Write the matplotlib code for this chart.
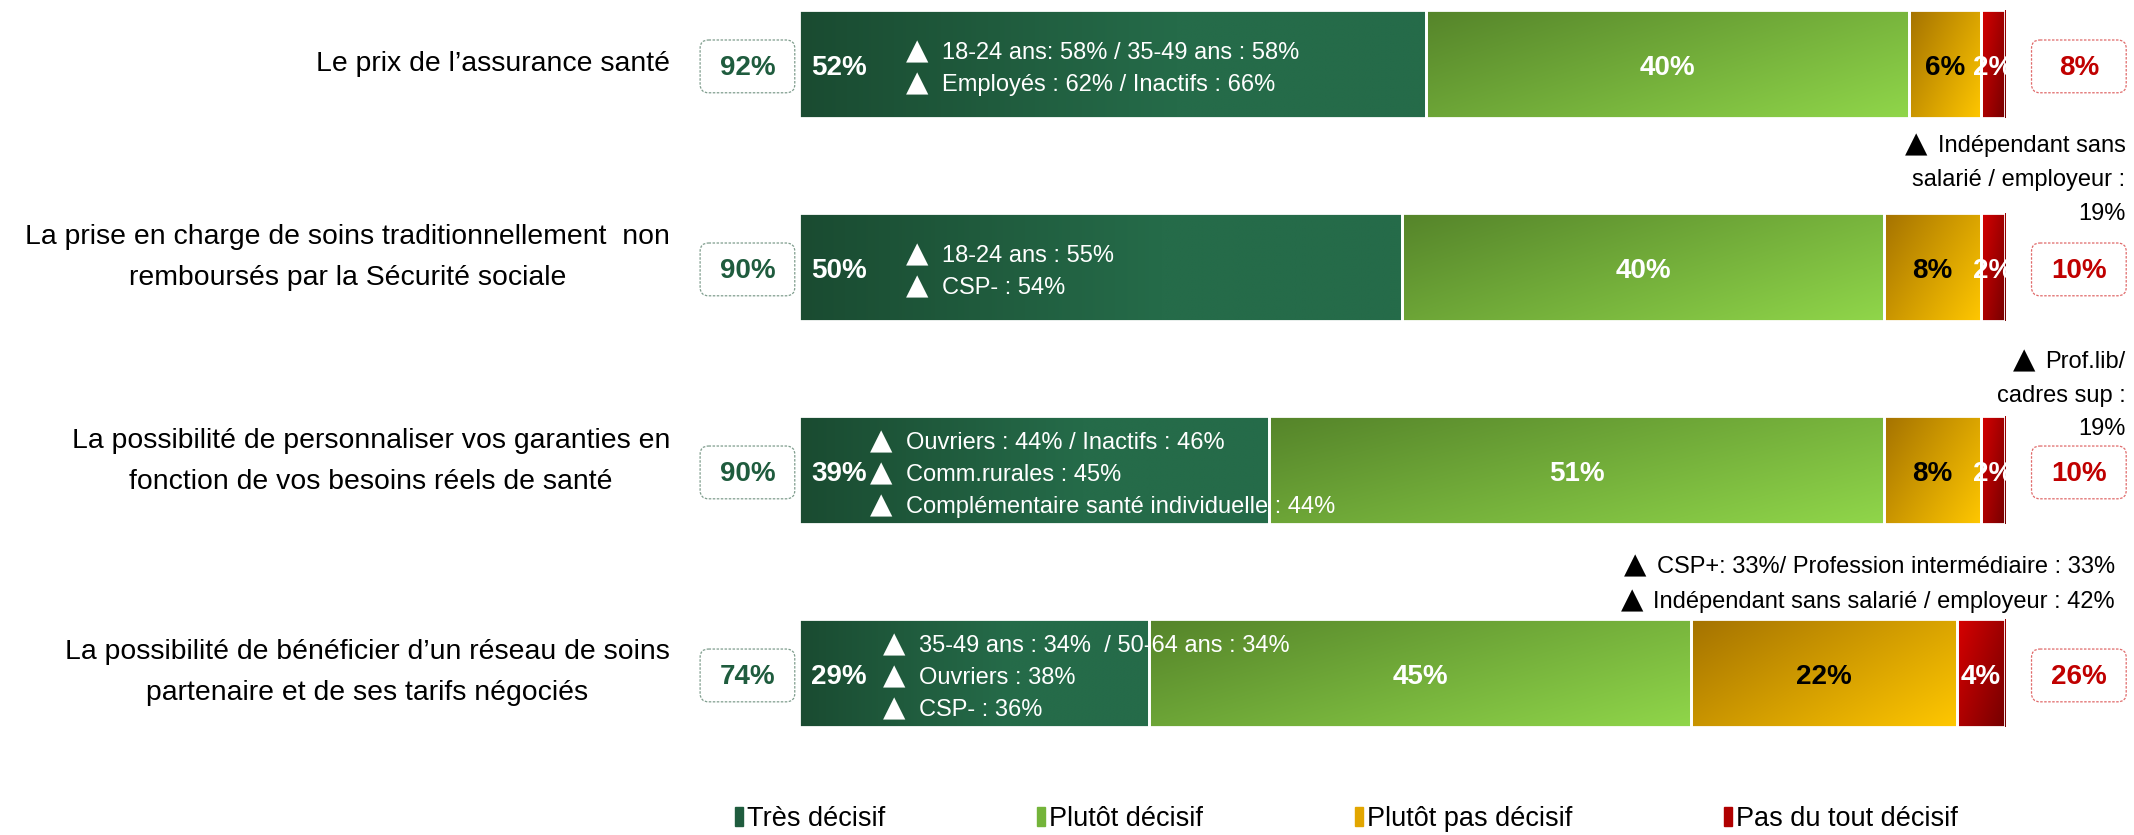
import numpy as np
import matplotlib
matplotlib.use("Agg")
import matplotlib.pyplot as plt
from matplotlib.colors import to_rgb
from matplotlib.patches import FancyBboxPatch, Patch

plt.rcParams['font.family'] = ['Liberation Sans', 'DejaVu Sans']

# donnees
categories = [
    "Le prix de l’assurance santé",
    "La prise en charge de soins traditionnellement  non\nremboursés par la Sécurité sociale",
    "La possibilité de personnaliser vos garanties en\nfonction de vos besoins réels de santé",
    "La possibilité de bénéficier d’un réseau de soins\npartenaire et de ses tarifs négociés",
]
tres_decisif = [52, 50, 39, 29]
plutot_decisif = [40, 40, 51, 45]
plutot_pas = [6, 8, 8, 22]
pas_du_tout = [2, 2, 2, 4]
total_decisif = [92, 90, 90, 74]
total_non = [8, 10, 10, 26]
series_names = ["Très décisif", "Plutôt décisif", "Plutôt pas décisif", "Pas du tout décisif"]

notes_in = [
    ["18-24 ans: 58% / 35-49 ans : 58%", "Employés : 62% / Inactifs : 66%"],
    ["18-24 ans : 55%", "CSP- : 54%"],
    ["Ouvriers : 44% / Inactifs : 46%", "Comm.rurales : 45%", "Complémentaire santé individuelle : 44%"],
    ["35-49 ans : 34%  / 50-64 ans : 34%", "Ouvriers : 38%", "CSP- : 36%"],
]
# (texte, triangle devant ?)
notes_out = [
    [("Indépendant sans", True), ("salarié / employeur :", False), ("19%", False)],
    [("Prof.lib/", True), ("cadres sup :", False), ("19%", False)],
    [("CSP+: 33%/ Profession intermédiaire : 33%", True), ("Indépendant sans salarié / employeur : 42%", True)],
]

# style
grads = [("#1a4b31", "#256b49", "h"), ("#55842a", "#90d64a", "d"),
         ("#a47200", "#ffc700", "d"), ("#d80000", "#740000", "d")]
legend_cols = ["#1f5c3e", "#74b43a", "#e2a600", "#b00000"]
val_cols = ["white", "white", "black", "white"]
note_in_x = [9.0, 9.0, 6.0, 7.1]
note_out_pos = [(110.0, 0.557, 24.5, -2), (110.0, 1.62, 24.0, -2), (109.1, 2.544, 25.5, -3)]
label_dy = [0, -0.047, -0.044, 0]
TRI = dict(family="DejaVu Sans", fontsize=21)


def gradient(c0, c1, mode, n=60, m=200):
    c0, c1 = np.array(to_rgb(c0)), np.array(to_rgb(c1))
    u = np.linspace(0, 1, m)[None, :]
    v = np.linspace(0, 1, n)[:, None]
    if mode == "h":
        t = np.clip(u / 0.6, 0, 1) + 0 * v
    else:
        t = (u * 0.6 + v * 0.4)
    return c0[None, None, :] * (1 - t[..., None]) + c1[None, None, :] * t[..., None]


fig = plt.figure(figsize=(21.34, 8.35), dpi=100)
ax = fig.add_axes([799 / 2134, 0, 1206 / 2134, 1])
ax.axis("off")

y = np.arange(len(categories))
left = np.zeros(len(categories))
for vals, (c0, c1, mode), col in zip([tres_decisif, plutot_decisif, plutot_pas, pas_du_tout], grads, legend_cols):
    bars = ax.barh(y, vals, left=left, height=0.53, color=col, edgecolor="white", linewidth=2)
    img = gradient(c0, c1, mode)
    for b in bars:
        x0, y0, w, h = b.get_x(), b.get_y(), b.get_width(), b.get_height()
        ax.imshow(img, extent=(x0, x0 + w, y0 + h, y0), aspect="auto", zorder=1.5, interpolation="bilinear")
        b.set_facecolor("none")
        b.set_zorder(3)
    left = left + np.array(vals)

ax.set_xlim(0, 100)
ax.set_ylim(3.798, -0.315)

vfont = dict(fontsize=20, fontweight="bold", va="center", zorder=5)
for i in range(len(categories)):
    yv = i + 0.022
    ax.text(1.0, yv, f"{tres_decisif[i]}%", ha="left", color=val_cols[0], **vfont)
    ax.text(tres_decisif[i] + plutot_decisif[i] / 2, yv, f"{plutot_decisif[i]}%", ha="center", color=val_cols[1], **vfont)
    x2 = tres_decisif[i] + plutot_decisif[i]
    ax.text(x2 + plutot_pas[i] / 2, yv, f"{plutot_pas[i]}%", ha="center", color=val_cols[2], **vfont)
    ax.text(x2 + plutot_pas[i] + pas_du_tout[i] / 2, yv, f"{pas_du_tout[i]}%", ha="center", color=val_cols[3], **vfont)

    # boites totaux
    for bx, val, ec, tc in [(-8.2, total_decisif[i], "#7f9d8d", "#1f5c3e"),
                            (102.2, total_non[i], "#e06a6a", "#c00000")]:
        box = FancyBboxPatch((bx, i + 0.012 - 0.13), 7.85, 0.26,
                             boxstyle="round,pad=0,rounding_size=0.7", mutation_aspect=12.06 / 203,
                             fc="white", ec=ec, lw=0.9, ls=(0, (2, 1.2)), clip_on=False, zorder=4)
        ax.add_patch(box)
        ax.text(bx + 3.93, yv, f"{val}%", ha="center", color=tc, clip_on=False, **vfont)

    ax.text(-10.7, i + label_dy[i], categories[i], ha="right", va="center", multialignment="center",
            fontsize=20.4, linespacing=1.75, clip_on=False)

    lines = notes_in[i]
    n = len(lines)
    for k, line in enumerate(lines):
        dy = ((n - 1) / 2 - k) * 23 - 3.5
        ax.annotate("▲", (note_in_x[i], i), xytext=(-1, dy + 1.2), textcoords="offset points",
                    ha="left", va="center", color="white", zorder=6, **TRI)
        ax.annotate(line, (note_in_x[i], i), xytext=(25, dy), textcoords="offset points",
                    ha="left", va="center", color="white", fontsize=17, zorder=6)

out_texts = []
for lines, (nx, ny, gap, shift) in zip(notes_out, note_out_pos):
    n = len(lines)
    for k, (line, tri) in enumerate(lines):
        t = ax.annotate(line, (nx, ny), xytext=(0, ((n - 1) / 2 - k) * gap + shift),
                        textcoords="offset points", ha="right", va="center", color="black",
                        fontsize=17, annotation_clip=False)
        if tri:
            out_texts.append(t)

handles = [Patch(color=c) for c in legend_cols]
fig.legend(handles, series_names, loc="center left", bbox_to_anchor=(735 / 2134, 0.019), ncol=4,
           frameon=False, fontsize=19.5, handlelength=0.3, handleheight=0.7, handletextpad=0.15,
           columnspacing=5.6, borderpad=0, borderaxespad=0)

# triangles devant les notes alignees a droite
fig.canvas.draw()
renderer = fig.canvas.get_renderer()
for t in out_texts:
    bb = t.get_window_extent(renderer)
    fig.text(bb.x0 - 10, (bb.y0 + bb.y1) / 2 + 1.5, "▲", transform=None, ha="right", va="center",
             color="black", **TRI)

fig.savefig("out.png", dpi=100)
